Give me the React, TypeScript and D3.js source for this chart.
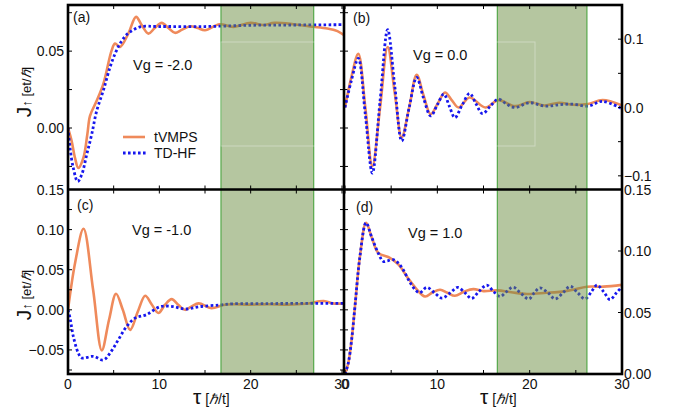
import React from "react";
import * as d3 from "d3";

// ---------- data ----------
const aTauVMPS = [0, 0.4, 0.77, 1.13, 1.68, 2.12, 2.41, 3.14, 3.87, 4.78, 5.15, 5.7, 6.6, 7.45, 8.07, 8.8, 9.5, 10.26, 11.0, 11.7, 12.5, 13.4, 14.2, 15.0, 16.6, 18.1, 20, 21.4, 22.6, 24.7, 26.5, 28.4, 29.5, 30.2];
const aVMPS = [0, -0.0085, -0.0195, -0.026, -0.0195, -0.004, 0.0079, 0.0177, 0.0287, 0.0505, 0.0549, 0.0527, 0.0614, 0.0723, 0.0669, 0.0614, 0.065, 0.0684, 0.065, 0.0619, 0.064, 0.0662, 0.065, 0.0636, 0.0675, 0.0658, 0.0684, 0.067, 0.0684, 0.0675, 0.066, 0.0647, 0.063, 0.0605];
const aTauHF = [0, 0.22, 0.58, 1.06, 1.5, 2.05, 2.6, 3.14, 3.9, 4.6, 5.2, 5.7, 6.3, 6.8, 7.9, 10, 15, 20, 25, 30.2];
const aHF = [0, -0.0129, -0.026, -0.0348, -0.0304, -0.0173, -0.004, 0.0111, 0.025, 0.0395, 0.049, 0.0549, 0.06, 0.0625, 0.0658, 0.066, 0.066, 0.0668, 0.067, 0.0672];

const bTauVMPS = [0, 0.7, 1.44, 2.2, 2.96, 3.8, 4.62, 5.4, 6.14, 6.95, 7.76, 8.5, 9.28, 10.05, 10.83, 11.6, 12.3, 13.5, 15.2, 16.6, 18.4, 20, 21.6, 23.2, 24.7, 26.3, 27.9, 30];
const bVMPS = [0, 0.045, 0.0787, 0.0, -0.086, 0.0, 0.0885, 0.02, -0.044, 0.0, 0.048, 0.018, -0.0098, 0.006, 0.022, 0.01, 0.0, 0.0147, 0.0, 0.0108, 0.002, 0.008, 0.003, 0.007, 0.004, 0.005, 0.011, 0.003];
const bTauHF = [0, 0.7, 1.44, 2.2, 2.96, 3.8, 4.62, 5.4, 6.14, 6.95, 7.76, 8.5, 9.28, 10.0, 10.7, 11.3, 11.9, 12.7, 13.5, 14.2, 14.9, 15.8, 16.6, 17.5, 18.4, 20, 21.6, 23.2, 24.7, 26.3, 27.9, 30];
const bHF = [0, 0.04, 0.072, -0.01, -0.096, 0.01, 0.114, 0.03, -0.049, 0.0, 0.044, 0.014, -0.0123, 0.004, 0.0197, 0.002, -0.0148, 0.004, 0.0206, 0.005, -0.009, 0.003, 0.0123, 0.005, 0.0, 0.007, 0.002, 0.004, 0.005, 0.002, 0.009, -0.002];

const cTauVMPS = [0, 0.8, 1.7, 2.75, 3.7, 4.5, 5.26, 6.0, 6.8, 7.65, 8.45, 9.15, 9.9, 10.6, 11.35, 12.1, 12.8, 13.5, 14.3, 15.7, 17, 18, 20, 22, 24, 26, 28, 29, 30.2];
const cVMPS = [0, 0.06, 0.101, 0.025, -0.0505, -0.012, 0.02, 0.0, -0.025, -0.002, 0.0175, 0.007, -0.004, 0.006, 0.0133, 0.006, 0.0, 0.004, 0.008, 0.002, 0.006, 0.007, 0.0065, 0.007, 0.0065, 0.0075, 0.011, 0.008, 0.008];
const cTauHF = [0, 0.22, 0.58, 1.13, 1.5, 2.77, 3.87, 4.6, 5.5, 6.4, 7.34, 8.6, 10.1, 11.5, 12.8, 14.4, 16.6, 18, 22, 26, 30.2];
const cHF = [0, -0.01, -0.033, -0.054, -0.06, -0.058, -0.0625, -0.054, -0.0375, -0.021, -0.0104, -0.006, 0.004, 0.004, 0.001, 0.004, 0.006, 0.0075, 0.0078, 0.008, 0.008];

const dTauVMPS = [0, 0.36, 0.72, 1.08, 1.62, 2.28, 2.9, 3.6, 4.9, 5.8, 6.7, 7.7, 8.67, 9.5, 10.3, 11.1, 11.9, 12.9, 13.9, 15.0, 16.5, 18, 19.7, 21.8, 23.5, 24.7, 26.2, 28, 30];
const dVMPS = [0, 0.009, 0.028, 0.055, 0.0957, 0.1229, 0.111, 0.0985, 0.0943, 0.0889, 0.0793, 0.0695, 0.063, 0.0665, 0.0685, 0.066, 0.0636, 0.067, 0.069, 0.0674, 0.068, 0.0665, 0.065, 0.066, 0.067, 0.0685, 0.071, 0.071, 0.0725];
const dTauHF = [0, 0.36, 0.72, 1.08, 1.62, 2.28, 2.9, 3.6, 4.15, 4.6, 5.2, 5.8, 6.3, 7.0, 7.6, 8.1, 8.85, 9.7, 10.5, 11.4, 12.2, 13.0, 13.7, 14.5, 15.35, 16.1, 16.8, 17.5, 18.2, 19.0, 19.9, 20.5, 21.1, 22.0, 22.75, 23.6, 24.4, 25.2, 26.0, 26.7, 27.3, 28.0, 28.7, 29.4, 30];
const dHF = [0, 0.009, 0.028, 0.055, 0.0957, 0.1229, 0.111, 0.0983, 0.0915, 0.092, 0.093, 0.09, 0.0848, 0.075, 0.0685, 0.066, 0.0704, 0.066, 0.0617, 0.066, 0.0704, 0.066, 0.0614, 0.067, 0.0723, 0.067, 0.063, 0.067, 0.0706, 0.066, 0.061, 0.066, 0.07, 0.066, 0.061, 0.066, 0.0713, 0.066, 0.061, 0.067, 0.0723, 0.067, 0.0605, 0.066, 0.071];

const shadeLeft = [16.75, 26.9];
const shadeRight = [16.5, 26.2];

const xTickLabels = [0, 10, 20, 30];
const aYLabels = [0, 0.05];
const bYLabels = [-0.1, 0, 0.1];
const cYLabels = [-0.05, 0, 0.05, 0.1, 0.15];
const dYLabels = [0, 0.05, 0.1, 0.15];

const panelLetters = ["(a)", "(b)", "(c)", "(d)"];
const gateLabels = ["Vg = -2.0", "Vg = 0.0", "Vg = -1.0", "Vg = 1.0"];
const seriesNames = ["tVMPS", "TD-HF"];

// ---------- styling ----------
const FONT = "'Liberation Sans', Arial, Helvetica, sans-serif";
const ORANGE = "#ef8a5b";
const BLUE = "#1616ee";
const XL = 68, XM = 344, XR = 622, YT = 5, YM = 189.5, YB = 374;

const fmtMinus = (s: string) => s.replace("-", "\u2212");

export default function App() {
  const xLeft = d3.scaleLinear().domain([0, 30]).range([68, 342]);
  const xRight = d3.scaleLinear().domain([0, 30]).range([345, 622]);

  const panels = [
    { key: "a", x: xLeft, y: d3.scaleLinear().domain([-0.04, 0.08]).range([YM, YT]), fx: [XL, XM], fy: [YT, YM],
      tv: aTauVMPS, vv: aVMPS, th: aTauHF, vh: aHF, shade: shadeLeft, labels: aYLabels, dec: 2, side: "left",
      minor: d3.range(-0.025, 0.08, 0.025), letter: [73, 22], gate: [133, 70] },
    { key: "b", x: xRight, y: d3.scaleLinear().domain([-0.12, 0.15]).range([YM, YT]), fx: [XM, XR], fy: [YT, YM],
      tv: bTauVMPS, vv: bVMPS, th: bTauHF, vh: bHF, shade: shadeRight, labels: bYLabels, dec: 1, side: "right",
      minor: d3.range(-0.1, 0.11, 0.05), letter: [353, 23], gate: [413, 60] },
    { key: "c", x: xLeft, y: d3.scaleLinear().domain([-0.08, 0.15]).range([YB, YM]), fx: [XL, XM], fy: [YM, YB],
      tv: cTauVMPS, vv: cVMPS, th: cTauHF, vh: cHF, shade: shadeLeft, labels: cYLabels, dec: 2, side: "left",
      minor: d3.range(-0.075, 0.151, 0.025), letter: [77, 210], gate: [132, 235] },
    { key: "d", x: xRight, y: d3.scaleLinear().domain([0, 0.15]).range([YB, YM]), fx: [XM, XR], fy: [YM, YB],
      tv: dTauVMPS, vv: dVMPS, th: dTauHF, vh: dHF, shade: shadeRight, labels: dYLabels, dec: 2, side: "right",
      minor: d3.range(0, 0.151, 0.05), letter: [356, 212], gate: [408, 238] },
  ];

  const xMinor = d3.range(0, 30.1, 5);

  return (
    <svg width={675} height={416} style={{ display: "block", position: "absolute", left: 0, top: 0, background: "#fff" }}
      fontFamily={FONT}>
      <defs>
        {panels.map((p) => (
          <clipPath id={"clip-" + p.key} key={p.key}>
            <rect x={p.fx[0]} y={p.fy[0]} width={p.fx[1] - p.fx[0]} height={p.fy[1] - p.fy[0]} />
          </clipPath>
        ))}
      </defs>
      <rect x={0} y={0} width={675} height={416} fill="#fff" />
      {panels.map((p, i) => {
        const line = d3.line<number>()
          .x((_, j) => 0)
          .curve(d3.curveCatmullRom.alpha(0.5));
        const mk = (ts: number[], vs: number[]) =>
          d3.line<[number, number]>().x((d) => p.x(d[0])).y((d) => p.y(d[1])).curve(d3.curveCatmullRom.alpha(0.5))(
            ts.map((t, j) => [t, vs[j]] as [number, number])
          ) || "";
        void line;
        const s0 = p.x(p.shade[0]), s1 = p.x(p.shade[1]);
        return (
          <g key={p.key}>
            <g clipPath={`url(#clip-${p.key})`}>
              <path d={mk(p.tv, p.vv)} fill="none" stroke={ORANGE} strokeWidth={2.6} strokeLinejoin="round" />
              <path d={mk(p.th, p.vh)} fill="none" stroke={BLUE} strokeWidth={2.8} strokeDasharray="2.6 2.4" />
              <rect x={s0} y={p.fy[0]} width={s1 - s0} height={p.fy[1] - p.fy[0]} fill="#6b8d41" fillOpacity={0.5} />
              <line x1={s0} x2={s0} y1={p.fy[0]} y2={p.fy[1]} stroke="#55a84a" strokeWidth={1.2} />
              <line x1={s1} x2={s1} y1={p.fy[0]} y2={p.fy[1]} stroke="#55a84a" strokeWidth={1.2} />
            </g>
            {/* y ticks */}
            {p.minor.map((v, j) => {
              const yy = p.y(v);
              if (p.side === "left") {
                return (
                  <g key={"yt" + j}>
                    <line x1={XL} x2={XL + 4} y1={yy} y2={yy} stroke="#000" strokeWidth={1} />
                    <line x1={XM - 4} x2={XM + 4} y1={yy} y2={yy} stroke="#000" strokeWidth={1} />
                  </g>
                );
              }
              return <line key={"yt" + j} x1={XR - 4} x2={XR} y1={yy} y2={yy} stroke="#000" strokeWidth={1} />;
            })}
            {/* x ticks */}
            {xMinor.map((t, j) => (
              <g key={"xt" + j}>
                <line x1={p.x(t)} x2={p.x(t)} y1={p.fy[0]} y2={p.fy[0] + 4} stroke="#000" strokeWidth={1} />
                <line x1={p.x(t)} x2={p.x(t)} y1={p.fy[1] - 4} y2={p.fy[1]} stroke="#000" strokeWidth={1} />
              </g>
            ))}
            {/* y tick labels */}
            {p.labels.map((v, j) => (
              <text key={"yl" + j} x={p.side === "left" ? 64 : 624} y={p.y(v)} dy="0.36em" fontSize={14}
                textAnchor={p.side === "left" ? "end" : "start"} fill="#111">
                {fmtMinus(v.toFixed(p.dec))}
              </text>
            ))}
            {/* x tick labels for bottom panels */}
            {(p.key === "c" || p.key === "d") && xTickLabels.map((t, j) => (
              <text key={"xl" + j} x={p.x(t)} y={389} fontSize={14} textAnchor="middle" fill="#111">{t}</text>
            ))}
            <text x={p.letter[0]} y={p.letter[1]} fontSize={14} fill="#111">{panelLetters[i]}</text>
            <text x={p.gate[0]} y={p.gate[1]} fontSize={14.5} fill="#111">{gateLabels[i]}</text>
          </g>
        );
      })}
      {/* faint white artifact rectangle */}
      <rect x={221} y={42} width={314} height={104} fill="none" stroke="#fff" strokeOpacity={0.35} strokeWidth={1} />
      {/* frames */}
      <rect x={XL} y={YT} width={XR - XL} height={YB - YT} fill="none" stroke="#000" strokeWidth={2.6} />
      <line x1={XM} x2={XM} y1={YT} y2={YB} stroke="#000" strokeWidth={2.6} />
      <line x1={XL} x2={XR} y1={YM} y2={YM} stroke="#000" strokeWidth={2.6} />
      {/* legend */}
      <line x1={123} x2={145} y1={137} y2={137} stroke={ORANGE} strokeWidth={2.6} />
      <text x={154} y={142} fontSize={14} fill="#111">{seriesNames[0]}</text>
      <line x1={123} x2={146} y1={153} y2={153} stroke={BLUE} strokeWidth={2.8} strokeDasharray="2.6 2.4" />
      <text x={154} y={158} fontSize={14} fill="#111">{seriesNames[1]}</text>
      {/* y axis titles */}
      {[92, 295].map((cy, j) => (
        <text key={"yt" + j} transform={`translate(31,${cy}) rotate(-90)`} textAnchor="middle" fill="#111">
          <tspan fontSize={21}>J</tspan>
          <tspan fontSize={13}>{"\u2191 [et/"}</tspan>
          <tspan fontSize={13} fontStyle="italic">{"\u210F"}</tspan>
          <tspan fontSize={13}>]</tspan>
        </text>
      ))}
      {/* x axis titles */}
      {[193, 480].map((x0, j) => (
        <text key={"xt" + j} x={x0} y={404} fill="#111">
          <tspan fontSize={21}>{"\u03C4"}</tspan>
          <tspan fontSize={14}>{"  ["}</tspan>
          <tspan fontSize={14} fontStyle="italic">{"\u210F"}</tspan>
          <tspan fontSize={14}>/t]</tspan>
        </text>
      ))}
    </svg>
  );
}
